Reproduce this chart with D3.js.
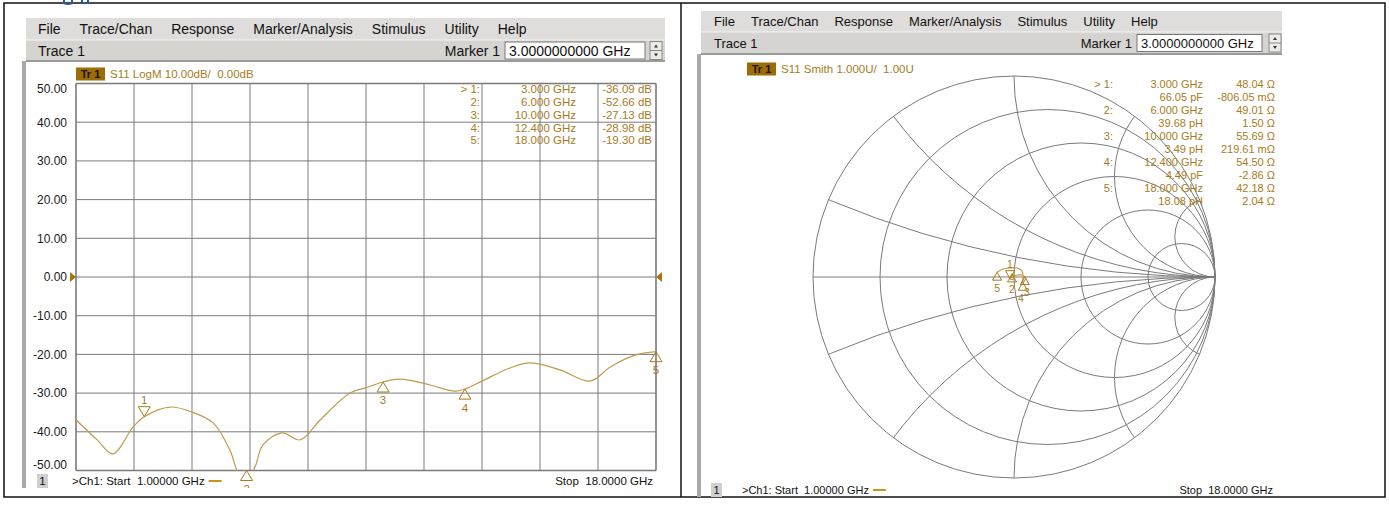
<!DOCTYPE html>
<html>
<head>
<meta charset="utf-8">
<script src="https://cdn.jsdelivr.net/npm/d3@7"></script>
<style>
	body { margin: 0; background: #fff; }
	svg { display: block; font-family: "Liberation Sans", Arial, sans-serif; }
</style>
</head>
<body>
<div id="graph"></div>
<script>
// S11 sweep (LogM)
const freqGHz = [1.0, 1.62, 2.08, 2.67, 3.0, 3.76, 4.4, 5.02, 5.51, 5.75, 6.0, 6.25, 6.48, 7.04, 7.57, 8.15, 9.03, 9.5, 10.0, 10.5, 11.38, 12.11, 12.4, 12.9, 13.72, 14.31, 15.19, 16.07, 16.65, 17.38, 18.0];
const s11dB = [-36.9, -42.1, -45.7, -38.8, -36.09, -33.6, -34.9, -37.7, -44.7, -50.5, -52.66, -49.0, -43.4, -40.3, -42.1, -37.0, -30.0, -28.6, -27.13, -26.4, -27.9, -29.5, -28.98, -26.9, -23.5, -22.2, -24.0, -26.9, -23.3, -20.2, -19.3];

// same sweep on the Smith chart (reflection coefficient, re / im)
const smithRe = [-0.005, 0.003, -0.020, -0.015, 0.000, -0.010, 0.005, 0.020, 0.040, 0.054, 0.055, 0.044, 0.045, 0.040, 0.015, -0.020, -0.055, -0.085];
const smithIm = [-0.012, 0.004, -0.008, -0.012, -0.008, 0.015, 0.008, 0.010, 0.010, 0.000, -0.015, -0.026, 0.000, 0.030, 0.045, 0.045, 0.040, 0.024];

// markers
const markerIds = ["1", "2", "3", "4", "5"];
const markerFreq = [3.0, 6.0, 10.0, 12.4, 18.0];
const markerLogM = [-36.09, -52.66, -27.13, -28.98, -19.30];
const markerR = [48.04, 49.01, 55.69, 54.50, 42.18];
const markerX = [-0.80605, 1.50, 0.21961, -2.86, 2.04];
const markerLC = ["66.05 pF", "39.68 pH", "3.49 pH", "4.49 pF", "18.08 pH"];
const markerXText = ["-806.05 mΩ", "1.50 Ω", "219.61 mΩ", "-2.86 Ω", "2.04 Ω"];

const yTicks = [50, 40, 30, 20, 10, 0, -10, -20, -30, -40, -50];
const menuItems = ["File", "Trace/Chan", "Response", "Marker/Analysis", "Stimulus", "Utility", "Help"];
const smithR = [0.2, 0.5, 1, 2, 5];
const smithX = [0.2, 0.5, 1, 2, 5, -0.2, -0.5, -1, -2, -5];

const gold = "#a57d1c";
const traceCol = "#c29a4c";
const gridCol = "#7a7a7a";

const svg = d3.select("#graph").append("svg")
	.attr("width", 1389)
	.attr("height", 505);

// table border round both screenshots
svg.append("rect")
	.attr("x", 4).attr("y", 3).attr("width", 1381).attr("height", 494)
	.attr("fill", "none").attr("stroke", "#111").attr("stroke-width", 1.5);
svg.append("line")
	.attr("x1", 681).attr("x2", 681).attr("y1", 3).attr("y2", 497)
	.attr("stroke", "#111").attr("stroke-width", 1.5);
// clipped blue bits at the very top
svg.append("path").attr("d", "M64,0 L64,3 Q68,5 72,3 L72,0").attr("fill", "none").attr("stroke", "#2f5597").attr("stroke-width", 2);
svg.append("path").attr("d", "M82,0 L82,3 L88,3 L88,0").attr("fill", "none").attr("stroke", "#2f5597").attr("stroke-width", 2);

// window chrome of an analyzer screenshot
function drawFrame(p) {
	const g = svg.append("g");
	g.append("rect")
		.attr("x", p.x0).attr("y", p.menuY).attr("width", p.x1 - p.x0).attr("height", p.menuH)
		.attr("fill", "#dedddb");
	let mx = p.menuX;
	menuItems.forEach((t) => {
		const tx = g.append("text")
			.attr("x", mx).attr("y", p.menuY + p.menuH / 2).attr("dy", "0.36em")
			.style("font-size", p.fs + "px").attr("fill", "#111").text(t);
		mx += tx.node().getComputedTextLength() + p.menuGap;
	});
	g.append("rect")
		.attr("x", p.x0).attr("y", p.traceY).attr("width", p.x1 - p.x0).attr("height", p.traceH)
		.attr("fill", "#d5d4d1");
	g.append("line")
		.attr("x1", p.x0).attr("x2", p.x1).attr("y1", p.traceY).attr("y2", p.traceY)
		.attr("stroke", "#f4f4f4");
	g.append("line")
		.attr("x1", p.x0).attr("x2", p.x1).attr("y1", p.traceY + p.traceH).attr("y2", p.traceY + p.traceH)
		.attr("stroke", "#9a9a9a").attr("stroke-width", 2);
	const ty = p.traceY + p.traceH / 2;
	g.append("text")
		.attr("x", p.menuX).attr("y", ty).attr("dy", "0.36em")
		.style("font-size", p.fs + "px").attr("fill", "#111").text("Trace 1");
	g.append("text")
		.attr("x", p.boxX - 5).attr("y", ty).attr("dy", "0.36em").attr("text-anchor", "end")
		.style("font-size", p.fs + "px").attr("fill", "#111").text("Marker 1");
	g.append("rect")
		.attr("x", p.boxX).attr("y", ty - 8.5).attr("width", p.boxW).attr("height", 17)
		.attr("fill", "#fff").attr("stroke", "#777");
	g.append("text")
		.attr("x", p.boxX + 4).attr("y", ty).attr("dy", "0.36em")
		.style("font-size", p.fs + "px").attr("fill", "#111").text("3.0000000000 GHz");
	g.append("rect")
		.attr("x", p.spinX).attr("y", ty - 9).attr("width", 12).attr("height", 18)
		.attr("fill", "#ecebe8").attr("stroke", "#888");
	g.append("line")
		.attr("x1", p.spinX).attr("x2", p.spinX + 12).attr("y1", ty).attr("y2", ty)
		.attr("stroke", "#888");
	g.append("path").attr("d", `M${p.spinX + 4},${ty - 3} L${p.spinX + 8},${ty - 3} L${p.spinX + 6},${ty - 6}Z`).attr("fill", "#333");
	g.append("path").attr("d", `M${p.spinX + 4},${ty + 3} L${p.spinX + 8},${ty + 3} L${p.spinX + 6},${ty + 6}Z`).attr("fill", "#333");
	// gray strip down the left side
	g.append("rect")
		.attr("x", p.x0 - 4).attr("y", p.traceY + p.traceH).attr("width", 4).attr("height", p.bottom - p.traceY - p.traceH)
		.attr("fill", "#a9a9a9");
	// status line
	g.append("rect")
		.attr("x", p.chanX).attr("y", p.statusY - 7).attr("width", 11).attr("height", 14)
		.attr("fill", "#cfcfcf");
	g.append("text")
		.attr("x", p.chanX + 5.5).attr("y", p.statusY).attr("dy", "0.36em").attr("text-anchor", "middle")
		.style("font-size", p.sfs + "px").attr("fill", "#111").text("1");
	const st = g.append("text")
		.attr("x", p.startX).attr("y", p.statusY).attr("dy", "0.36em")
		.style("font-size", p.sfs + "px").attr("fill", "#111").attr("xml:space", "preserve")
		.text(">Ch1: Start  1.00000 GHz");
	const sx = p.startX + st.node().getComputedTextLength() + 4;
	g.append("line")
		.attr("x1", sx).attr("x2", sx + 13).attr("y1", p.statusY).attr("y2", p.statusY)
		.attr("stroke", "#c8961e").attr("stroke-width", 2);
	g.append("text")
		.attr("x", p.stopX).attr("y", p.statusY).attr("dy", "0.36em").attr("text-anchor", "end")
		.style("font-size", p.sfs + "px").attr("fill", "#111").attr("xml:space", "preserve")
		.text("Stop  18.0000 GHz");
	return g;
}

function trHeader(g, x, y, label) {
	g.append("rect").attr("x", x).attr("y", y - 6.5).attr("width", 29).attr("height", 13).attr("fill", "#9c6c05");
	g.append("text").attr("x", x + 14.5).attr("y", y).attr("dy", "0.36em").attr("text-anchor", "middle")
		.style("font-size", "11px").style("font-weight", "bold").attr("fill", "#1e1400").text("Tr 1");
	g.append("text").attr("x", x + 34).attr("y", y).attr("dy", "0.36em").attr("xml:space", "preserve")
		.style("font-size", "11.5px").attr("fill", gold).text(label);
}

// marker triangle: tip on the point, pointing down (active) or up
function markerGlyph(g, x, y, id, down, w, h, fs, dx) {
	const s = down ? -1 : 1;
	g.append("path")
		.attr("d", `M${x},${y} L${x - w / 2},${y + s * h} L${x + w / 2},${y + s * h}Z`)
		.attr("fill", "none").attr("stroke", gold).attr("stroke-width", 1);
	g.append("text")
		.attr("x", x + (dx || 0)).attr("y", down ? y - h - 3 : y + h + fs + 1)
		.attr("text-anchor", "middle").style("font-size", fs + "px").attr("fill", gold).text(id);
}

// ---------------- left: LogM plot ----------------
const left = drawFrame({
	x0: 26, x1: 665, menuY: 18, menuH: 22, traceY: 40, traceH: 21, bottom: 488,
	fs: 14, menuX: 38, menuGap: 19, boxX: 505, boxW: 140, spinX: 650,
	chanX: 37, startX: 72, stopX: 653, statusY: 481, sfs: 11.5
});

const x = d3.scaleLinear().domain([1, 18]).range([76, 656]);
const y = d3.scaleLinear().domain([-50, 50]).range([470.5, 83.5]);

left.append("clipPath").attr("id", "leftClip")
	.append("rect").attr("x", 22).attr("y", 62).attr("width", 645).attr("height", 426);
left.append("clipPath").attr("id", "plotClip")
	.append("rect").attr("x", 76).attr("y", 83.5).attr("width", 580).attr("height", 387);

const lp = left.append("g").attr("clip-path", "url(#leftClip)");

// grid, 10 x 10 divisions
d3.range(11).forEach((i) => {
	const fx = x(1 + i * 1.7);
	lp.append("line").attr("x1", fx).attr("x2", fx).attr("y1", y(50)).attr("y2", y(-50))
		.attr("stroke", gridCol).attr("stroke-width", i === 0 || i === 10 ? 1.6 : 1);
});
yTicks.forEach((t) => {
	lp.append("line").attr("x1", x(1)).attr("x2", x(18)).attr("y1", y(t)).attr("y2", y(t))
		.attr("stroke", gridCol).attr("stroke-width", Math.abs(t) === 50 ? 1.6 : 1);
	const ly = t === 50 ? y(t) + 5 : t === -50 ? y(t) - 6 : y(t);
	lp.append("text").attr("x", 67).attr("y", ly).attr("dy", "0.36em").attr("text-anchor", "end")
		.style("font-size", "12px").attr("fill", "#1a1a1a").text(t.toFixed(2));
});

// reference level arrows
lp.append("path").attr("d", `M${x(1)},${y(0)} L${x(1) - 6},${y(0) - 5} L${x(1) - 6},${y(0) + 5}Z`).attr("fill", "#a87608");
lp.append("path").attr("d", `M${x(18)},${y(0)} L${x(18) + 6},${y(0) - 5} L${x(18) + 6},${y(0) + 5}Z`).attr("fill", "#a87608");

trHeader(lp, 76, 74, "S11 LogM 10.00dB/  0.00dB");

// the trace
const line = d3.line()
	.x((d, i) => x(freqGHz[i]))
	.y((d) => y(d))
	.curve(d3.curveCatmullRom.alpha(0.5));
lp.append("path")
	.datum(s11dB)
	.attr("d", line)
	.attr("clip-path", "url(#plotClip)")
	.attr("fill", "none")
	.attr("stroke", traceCol)
	.attr("stroke-width", 1.2);

// marker readout
markerIds.forEach((id, i) => {
	const ry = 89 + i * 12.8;
	lp.append("text").attr("x", 480).attr("y", ry).attr("dy", "0.36em").attr("text-anchor", "end")
		.style("font-size", "11.5px").attr("fill", gold).text((i === 0 ? "> " : "") + id + ":");
	lp.append("text").attr("x", 576).attr("y", ry).attr("dy", "0.36em").attr("text-anchor", "end")
		.style("font-size", "11.5px").attr("fill", gold).text(markerFreq[i].toFixed(3) + " GHz");
	lp.append("text").attr("x", 652).attr("y", ry).attr("dy", "0.36em").attr("text-anchor", "end")
		.style("font-size", "11.5px").attr("fill", gold).text(markerLogM[i].toFixed(2) + " dB");
});

markerIds.forEach((id, i) => {
	const v = Math.max(markerLogM[i], -50);
	markerGlyph(lp, x(markerFreq[i]), y(v), id, i === 0, 12, 10, 11.5);
});

// ---------------- right: Smith chart ----------------
const right = drawFrame({
	x0: 701, x1: 1282, menuY: 11, menuH: 21, traceY: 32, traceH: 22, bottom: 497,
	fs: 13, menuX: 714, menuGap: 16, boxX: 1137, boxW: 125, spinX: 1269,
	chanX: 711, startX: 742, stopX: 1273, statusY: 490, sfs: 11
});

const cx = 1014, cy = 277, R = 201;
const gx = d3.scaleLinear().domain([-1, 1]).range([cx - R, cx + R]);
const gy = d3.scaleLinear().domain([-1, 1]).range([cy + R, cy - R]);

right.append("clipPath").attr("id", "smithClip")
	.append("circle").attr("cx", cx).attr("cy", cy).attr("r", R);

trHeader(right, 747, 69, "S11 Smith 1.000U/  1.00U");

const sg = right.append("g");
sg.append("circle").attr("cx", cx).attr("cy", cy).attr("r", R)
	.attr("fill", "none").attr("stroke", gridCol).attr("stroke-width", 1);
sg.append("line").attr("x1", gx(-1)).attr("x2", gx(1)).attr("y1", cy).attr("y2", cy)
	.attr("stroke", gridCol).attr("stroke-width", 1);
smithR.forEach((r) => {
	sg.append("circle")
		.attr("cx", gx(r / (1 + r))).attr("cy", cy).attr("r", R / (1 + r))
		.attr("fill", "none").attr("stroke", gridCol).attr("stroke-width", 1);
});
const arcs = sg.append("g").attr("clip-path", "url(#smithClip)");
smithX.forEach((xv) => {
	arcs.append("circle")
		.attr("cx", gx(1)).attr("cy", gy(1 / xv)).attr("r", R / Math.abs(xv))
		.attr("fill", "none").attr("stroke", gridCol).attr("stroke-width", 1);
});

// trace
const sLine = d3.line()
	.x((d, i) => gx(d))
	.y((d, i) => gy(smithIm[i]))
	.curve(d3.curveCatmullRom.alpha(0.5));
right.append("path")
	.datum(smithRe)
	.attr("d", sLine)
	.attr("fill", "none")
	.attr("stroke", traceCol)
	.attr("stroke-width", 1.2);

// markers from impedance, z = Z / 50
markerIds.forEach((id, i) => {
	const zr = markerR[i] / 50, zi = markerX[i] / 50;
	const den = (zr + 1) * (zr + 1) + zi * zi;
	const gr = (zr * zr + zi * zi - 1) / den;
	const gi = (2 * zi) / den;
	markerGlyph(right, gx(gr), gy(gi), id, i === 0, 9, 8, 10.5, i === 2 ? 2 : i === 3 ? -2 : 0);
});

// marker readout
markerIds.forEach((id, i) => {
	const ry = 84 + i * 26;
	right.append("text").attr("x", 1113).attr("y", ry).attr("dy", "0.36em").attr("text-anchor", "end")
		.style("font-size", "11px").attr("fill", gold).text((i === 0 ? "> " : "") + id + ":");
	right.append("text").attr("x", 1203).attr("y", ry).attr("dy", "0.36em").attr("text-anchor", "end")
		.style("font-size", "11px").attr("fill", gold).text(markerFreq[i].toFixed(3) + " GHz");
	right.append("text").attr("x", 1275).attr("y", ry).attr("dy", "0.36em").attr("text-anchor", "end")
		.style("font-size", "11px").attr("fill", gold).text(markerR[i].toFixed(2) + " Ω");
	right.append("text").attr("x", 1203).attr("y", ry + 13).attr("dy", "0.36em").attr("text-anchor", "end")
		.style("font-size", "11px").attr("fill", gold).text(markerLC[i]);
	right.append("text").attr("x", 1275).attr("y", ry + 13).attr("dy", "0.36em").attr("text-anchor", "end")
		.style("font-size", "11px").attr("fill", gold).text(markerXText[i]);
});
</script>
</body>
</html>
